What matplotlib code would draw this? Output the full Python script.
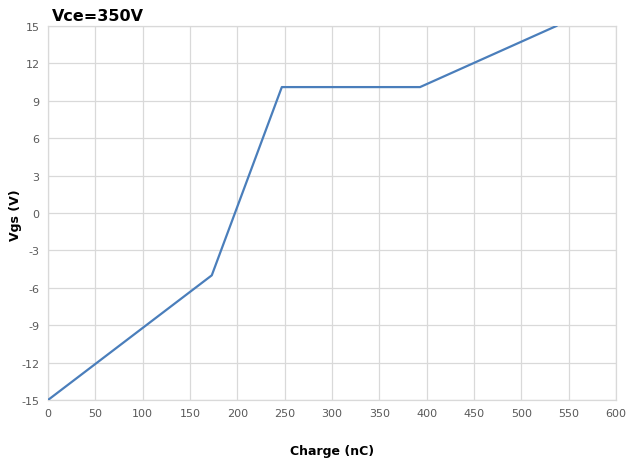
import matplotlib.pyplot as plt

charge = [0, 173, 247, 393, 537]
vgs = [-15, -5, 10.1, 10.1, 15]

x_ticks = list(range(0, 601, 50))
y_ticks = list(range(-15, 16, 3))


def main():
    plt.rcParams["axes.unicode_minus"] = False
    fig = plt.figure(figsize=(6.26, 4.64), dpi=100)
    ax = fig.add_axes([0.0767, 0.1358, 0.9073, 0.806])

    ax.plot(charge, vgs, color="#4a7ebb", linewidth=1.6, zorder=3)

    ax.set_xlim(0, 600)
    ax.set_ylim(-15, 15)
    ax.set_xticks(x_ticks)
    ax.set_yticks(y_ticks)
    ax.grid(True, color="#d9d9d9", linewidth=0.9)
    ax.tick_params(length=0, labelsize=8, colors="#595959", pad=6)
    for s in ax.spines.values():
        s.set_color("#d9d9d9")
        s.set_linewidth(0.9)

    fig.text(332 / 626, 1 - 452 / 464, "Charge (nC)", fontsize=9,
             fontweight="bold", ha="center", va="center")
    fig.text(15 / 626, 1 - 215 / 464, "Vgs (V)", fontsize=9,
             fontweight="bold", ha="center", va="center", rotation=90)
    fig.text(0.083, 0.965, "Vce=350V", fontsize=11.5, fontweight="bold", va="center")

    fig.savefig("out.png", dpi=100)


if __name__ == "__main__":
    main()
